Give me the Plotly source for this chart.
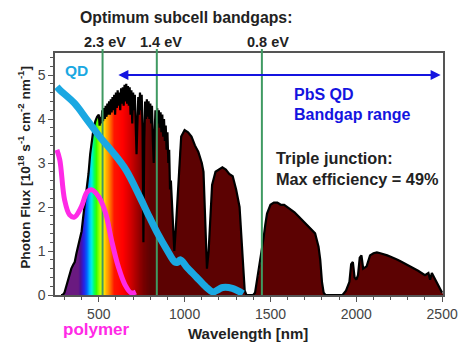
import numpy as np
import plotly.graph_objects as go

# ---------------- data ----------------
spec_wl = [280, 290, 300, 310, 320, 330, 340, 350, 360, 370, 380, 390, 400, 410, 420, 430, 440, 450,
           460, 470, 480, 490,
           500, 505, 510, 515, 520, 525, 530, 535, 540, 545, 550, 555, 560, 565, 570, 575, 580, 585,
           590, 595, 600, 605, 610, 615, 620, 625, 630, 635, 640, 645, 650, 655, 660, 665, 670, 675,
           680, 685, 690, 695, 700, 705, 710, 715, 720, 725, 730, 735, 740, 745, 750, 755, 760, 765,
           770, 775, 780, 785, 790, 795, 800, 805, 810, 815, 820, 825, 830, 835, 840, 845, 850, 855,
           860, 865, 870, 875, 880, 885, 890, 895, 900, 905, 910, 915, 920,
           930, 940, 950, 960, 970, 980, 1000, 1020, 1040,
           1060, 1080, 1100, 1110, 1120, 1130, 1140, 1150, 1160, 1180, 1200, 1220, 1240, 1260, 1280,
           1300, 1320, 1330, 1340, 1350, 1360, 1400, 1410, 1420, 1430, 1440, 1450, 1460, 1470, 1480,
           1500, 1520, 1540, 1560, 1580, 1600, 1620, 1640, 1660, 1680, 1700, 1720, 1740, 1760, 1780,
           1790, 1800, 1810, 1820, 1920, 1940, 1960, 1970, 1980, 1990, 2000, 2010, 2020, 2030, 2040,
           2060, 2080, 2100, 2120, 2140, 2160, 2180, 2200, 2220, 2240, 2260, 2280, 2300, 2320, 2340,
           2360, 2380, 2400, 2420, 2430, 2440, 2460, 2480, 2500]
spec_flux = [0, 0, 0.05, 0.2, 0.35, 0.5, 0.6, 0.68, 0.75, 0.95, 1.1, 1.25, 1.45, 1.8, 2.1, 2.4, 2.75, 3.2,
             3.55, 3.8, 3.95, 4.05,
             4.1, 3.85, 4.05, 3.9, 4.2, 3.95, 4.25, 4.0, 4.3, 4.05, 4.35, 4.1, 4.4, 4.1, 4.45, 4.15, 4.5, 4.2,
             4.55, 4.1, 4.6, 4.25, 4.65, 4.3, 4.6, 4.2, 4.7, 4.35, 4.72, 4.3, 4.78, 4.4, 4.8, 4.35, 4.75, 4.3,
             4.72, 4.1, 4.65, 3.9, 4.6, 4.2, 4.55, 3.6, 3.2, 3.9, 4.5, 4.1, 4.6, 4.2, 4.55, 3.8, 1.2, 3.5,
             4.4, 4.0, 4.45, 4.05, 4.4, 4.0, 4.35, 3.9, 4.3, 3.5, 3.0, 3.6, 4.2, 3.8, 4.25, 3.9, 4.2, 3.8,
             4.15, 3.7, 4.1, 3.6, 4.0, 3.5, 3.85, 3.3, 3.7, 3.0, 3.3, 2.4, 2.6,
             1.8, 1.0, 1.6, 2.3, 3.2, 3.6, 3.75, 3.7, 3.6,
             3.4, 3.25, 3.0, 2.8, 1.8, 0.6, 1.0, 1.9, 2.5, 2.8, 2.85, 2.9, 2.85, 2.75, 2.7,
             2.4, 2.0, 1.4, 0.6, 0.1, 0, 0, 0.05, 0.3, 0.45, 0.7, 1.0, 1.3, 1.6, 1.85,
             2.05, 2.1, 2.1, 2.05, 2.05, 2.0, 1.95, 1.88, 1.8, 1.72, 1.65, 1.58, 1.5, 1.4, 1.1,
             0.8, 0.3, 0.05, 0, 0, 0.1, 0.3, 0.7, 0.75, 0.4, 0.35, 0.45, 0.85, 0.9, 0.6,
             0.65, 0.9, 0.95, 0.97, 0.95, 0.93, 0.9, 0.87, 0.84, 0.8, 0.76, 0.72, 0.68, 0.64, 0.6,
             0.55, 0.5, 0.45, 0.5, 0.35, 0.5, 0.35, 0.2, 0.05]

qd_wl = [256, 273, 358, 432, 511, 585, 659, 739, 784, 841, 898, 943, 958, 975, 1011, 1068, 1125, 1165, 1195, 1222, 1278, 1340]
qd_abs = [4.73, 4.66, 4.36, 3.98, 3.57, 3.23, 2.84, 2.23, 1.86, 1.41, 1.02, 0.75, 0.74, 0.8, 0.64, 0.41, 0.18, 0.07, 0.12, 0.17, 0.15, 0.03]

poly_wl = [256, 273, 301, 330, 358, 398, 432, 460, 500, 540, 574, 614, 653, 688, 716]
poly_abs = [3.3, 3.07, 2.16, 1.82, 1.77, 2.0, 2.34, 2.39, 2.23, 1.86, 1.25, 0.64, 0.23, 0.05, 0.07]

bandgap_wl = [522, 838, 1450]
bandgap_labels = ["2.3 eV", "1.4 eV", "0.8 eV"]

x_ticks = [500, 1000, 1500, 2000, 2500]
y_ticks = [0, 1, 2, 3, 4, 5]

# ---------------- style ----------------
XMIN, XMAX = 245, 2505
YMIN, YMAX = 0, 5.5
L, R, T, B = 55, 17, 53, 49
W, H = 470, 344
PW, PH = W - L - R, H - T - B


def px(xp):
    return (xp - L) / PW


def py(yp):
    return (H - B - yp) / PH


# wavelength -> colour stops for the rainbow fill
stops = [(245, "#6a1a80"), (380, "#6a1a80"), (395, "#4a0f9a"), (412, "#2a20e0"), (430, "#0060ff"),
         (447, "#00bfff"), (460, "#00f0e0"), (472, "#00ff70"), (485, "#30ff00"), (503, "#a0ff00"),
         (516, "#d8ff00"), (532, "#ffe000"), (550, "#ffa000"), (570, "#ff6000"), (590, "#ff1500"),
         (640, "#ff0000"), (680, "#d80000"), (720, "#a80000"), (760, "#780000"), (800, "#5c0202"),
         (2510, "#5c0202")]
cs = [[(w - 245) / (2510 - 245), c] for w, c in stops]
hx = np.arange(240, 2512, 2)
hz = np.vstack([hx, hx]).astype(float)

fig = go.Figure()
fig.add_trace(go.Heatmap(x=hx, y=[0, 6], z=hz, colorscale=cs, zmin=245, zmax=2510,
                         showscale=False, hoverinfo="skip"))
# white mask above the spectrum
mx = [240] + spec_wl + [2512, 2512, 240, 240]
my = [0] + spec_flux + [0, 6.5, 6.5, 0]
fig.add_trace(go.Scatter(x=mx, y=my, fill="toself", fillcolor="white", mode="none",
                         hoverinfo="skip", showlegend=False))
# black spectrum outline
fig.add_trace(go.Scatter(x=spec_wl, y=spec_flux, mode="lines",
                         line=dict(color="black", width=2.2), showlegend=False))

GREEN = "#3f9a62"
for wl in bandgap_wl:
    fig.add_trace(go.Scatter(x=[wl, wl], y=[0, YMAX], mode="lines",
                             line=dict(color=GREEN, width=2), showlegend=False))
    fig.add_shape(type="line", xref="x", yref="paper", x0=wl, x1=wl, y0=1, y1=py(49),
                  line=dict(color=GREEN, width=2))

QD_C = "#1aa8e2"
POLY_C = "#ff2ae6"
fig.add_trace(go.Scatter(x=qd_wl, y=qd_abs, mode="lines", line=dict(color=QD_C, width=7, shape="spline"),
                         showlegend=False))
fig.add_trace(go.Scatter(x=poly_wl, y=poly_abs, mode="lines",
                         line=dict(color=POLY_C, width=5, shape="spline"), showlegend=False))

FONT = "Liberation Sans, Arial, sans-serif"
DARK = "#222222"
BLUE = "#1414e0"
ann = []
# double headed arrow
ann.append(dict(x=614, y=5, ax=2500, ay=5, xref="x", yref="y", axref="x", ayref="y", text="",
                showarrow=True, arrowhead=2, startarrowhead=2, arrowside="end+start",
                arrowsize=1, startarrowsize=1, arrowwidth=2, arrowcolor=BLUE))


def txt(t, xp, yp, size, color, xanchor="center", angle=0):
    ann.append(dict(text=t, x=px(xp), y=py(yp), xref="paper", yref="paper", showarrow=False,
                    xanchor=xanchor, yanchor="middle", textangle=angle,
                    font=dict(family=FONT, size=size, color=color)))


txt("<b>Optimum subcell bandgaps:</b>", 189, 17, 15.8, DARK)
for wl, lab, xp in zip(bandgap_wl, bandgap_labels, [106, 164, 273]):
    txt("<b>%s</b>" % lab, xp, 42, 14.5, DARK)
txt("<b>QD</b>", 77, 70, 15.5, QD_C)
txt("<b>PbS QD</b>", 298, 94, 16, BLUE, "left")
txt("<b>Bandgap range</b>", 298, 114, 16, BLUE, "left")
txt("<b>Triple junction:</b>", 280, 158, 16.3, DARK, "left")
txt("<b>Max efficiency = 49%</b>", 280, 179, 16.3, DARK, "left")
txt("<b>polymer</b>", 98, 329, 17, POLY_C)
txt("<b>Wavelength [nm]</b>", 253, 333, 15, DARK)
txt("<b>Photon Flux [10<sup>18</sup> s<sup>-1</sup> cm<sup>-2</sup> nm<sup>-1</sup>]</b>", 23, 167, 13.7,
    DARK, angle=-90)

AX = "#555555"
fig.update_layout(
    width=W, height=H, margin=dict(l=L, r=R, t=T, b=B, pad=0),
    paper_bgcolor="white", plot_bgcolor="white", showlegend=False,
    annotations=ann,
    xaxis=dict(range=[XMIN, XMAX], tickvals=x_ticks, ticks="outside", ticklen=5, tickwidth=1.2,
               tickcolor=AX, showline=True, linecolor=AX, linewidth=1.5, mirror=True,
               showgrid=False, zeroline=False,
               tickfont=dict(family=FONT, size=14, color="#444444"),
               minor=dict(dtick=100, tick0=0, ticks="outside", ticklen=3, tickcolor=AX)),
    yaxis=dict(range=[YMIN, YMAX], tickvals=y_ticks, ticks="outside", ticklen=5, tickwidth=1.2,
               tickcolor=AX, showline=True, linecolor=AX, linewidth=1.5, mirror=True,
               showgrid=False, zeroline=False,
               tickfont=dict(family=FONT, size=14, color="#444444"),
               minor=dict(dtick=0.2, tick0=0, ticks="outside", ticklen=3, tickcolor=AX)),
)

fig.write_html("out.html")
